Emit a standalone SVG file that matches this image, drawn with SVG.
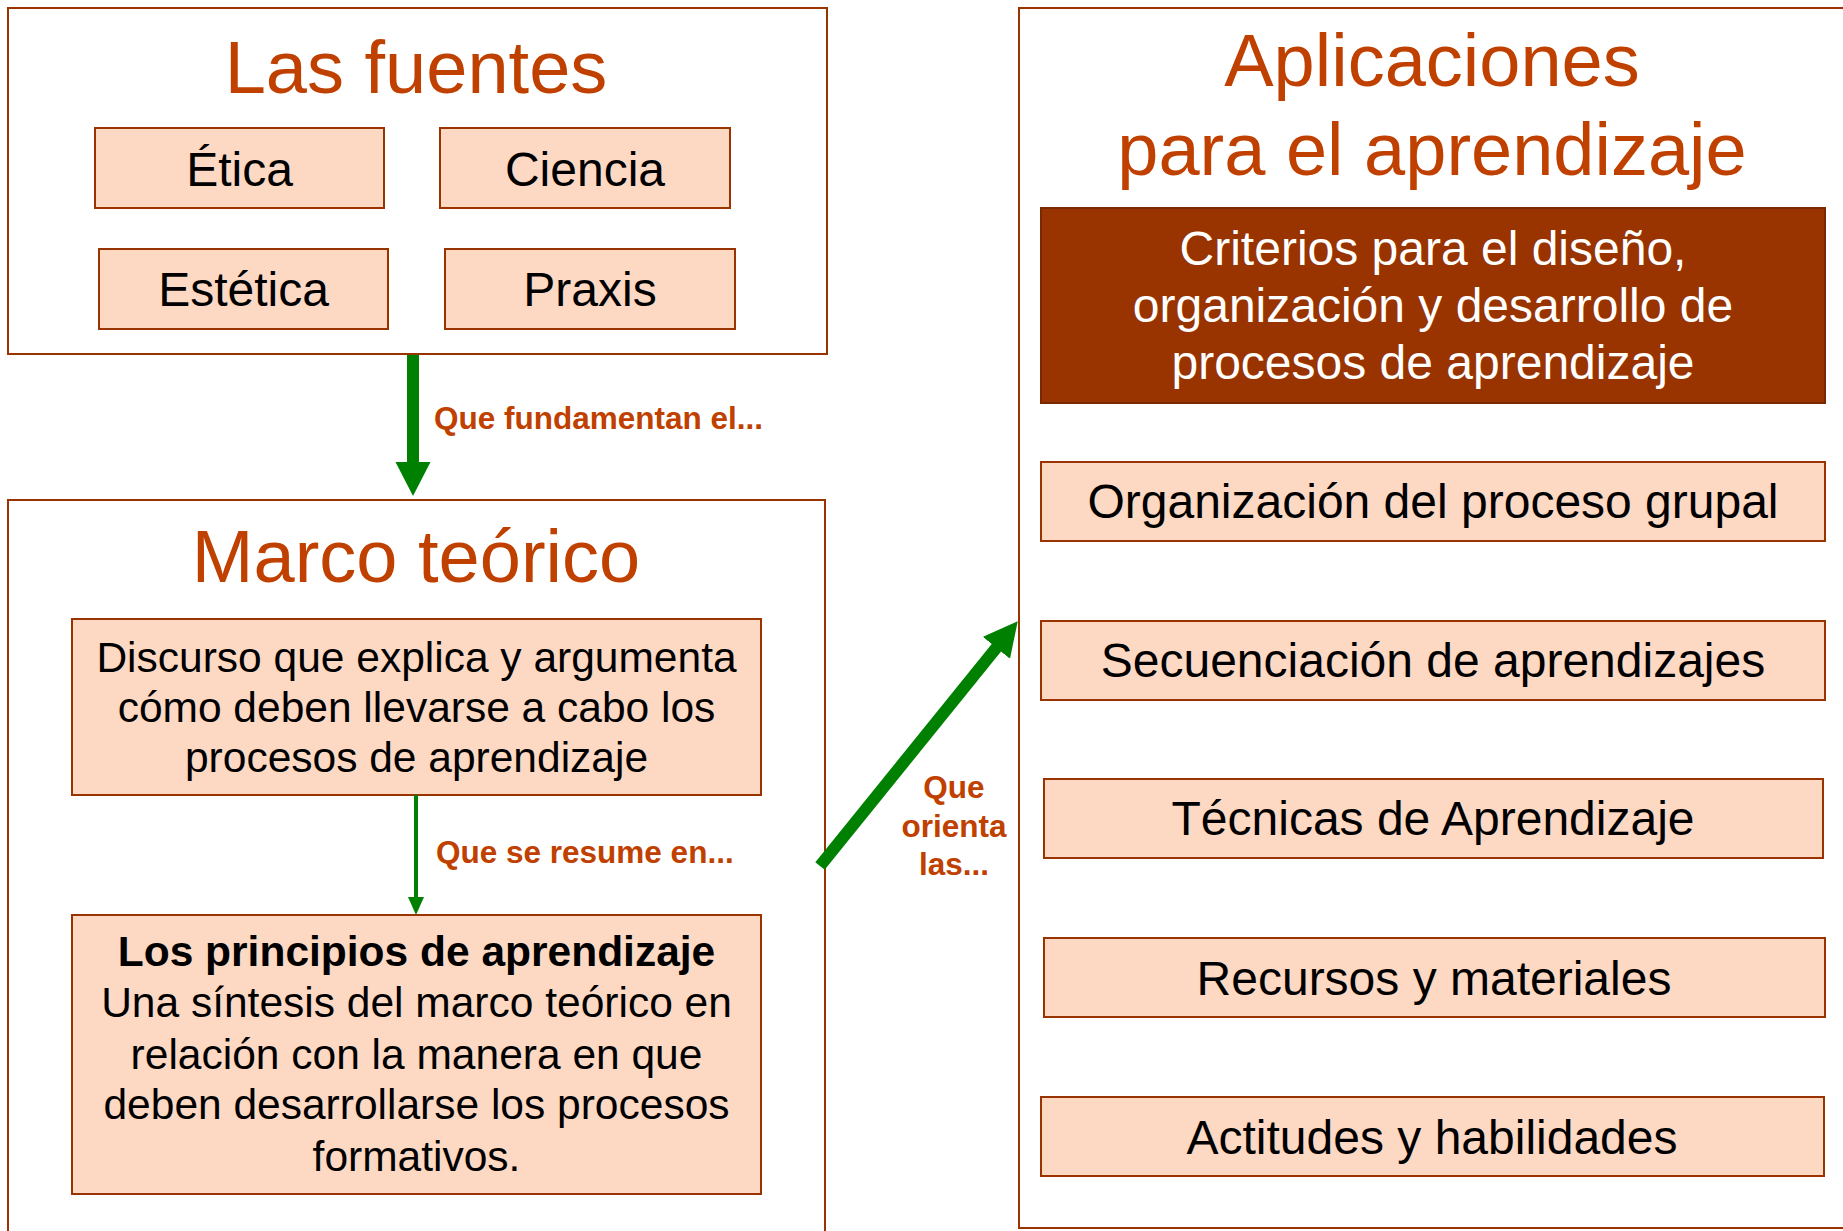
<svg xmlns="http://www.w3.org/2000/svg" width="1843" height="1231" viewBox="0 0 1843 1231">
<style>
.frame{fill:#ffffff;stroke:#993300;stroke-width:2}
.box{fill:#FDD8C3;stroke:#993300;stroke-width:2}
.dark{fill:#993300;stroke:#7a2800;stroke-width:2}
.title{font-family:"Liberation Sans",Arial,sans-serif;font-size:74px;fill:#C04000;text-anchor:middle}
.t48{font-family:"Liberation Sans",Arial,sans-serif;font-size:48px;fill:#000;text-anchor:middle}
.t42{font-family:"Liberation Sans",Arial,sans-serif;font-size:42.5px;fill:#000;text-anchor:middle}
.w48{font-family:"Liberation Sans",Arial,sans-serif;font-size:48px;fill:#fff;text-anchor:middle}
.lbl{font-family:"Liberation Sans",Arial,sans-serif;font-size:31.5px;font-weight:bold;fill:#C04000}
.conn{stroke:#008000;fill:none}
</style>
<defs>
<marker id="bigHead" markerUnits="userSpaceOnUse" markerWidth="36" markerHeight="36" refX="1" refY="17.5" orient="auto" viewBox="0 0 36 36">
<path d="M0,0 L34,17.5 L0,35 z" fill="#008000"/>
</marker>
<marker id="smallHead" markerUnits="userSpaceOnUse" markerWidth="20" markerHeight="18" refX="1" refY="8" orient="auto" viewBox="0 0 20 18">
<path d="M0,0 L18,8 L0,16 z" fill="#008000"/>
</marker>
</defs>

<g id="fuentes">
<rect class="frame" x="8" y="8" width="819" height="346"/>
<text class="title" x="416" y="93">Las fuentes</text>
</g>
<g id="etica"><rect class="box" x="95" y="128" width="289" height="80"/><text class="t48" x="239.5" y="186">Ética</text></g>
<g id="ciencia"><rect class="box" x="440" y="128" width="290" height="80"/><text class="t48" x="585" y="186">Ciencia</text></g>
<g id="estetica"><rect class="box" x="99" y="249" width="289" height="80"/><text class="t48" x="243.5" y="306">Estética</text></g>
<g id="praxis"><rect class="box" x="445" y="249" width="290" height="80"/><text class="t48" x="590" y="306">Praxis</text></g>

<g id="marco">
<rect class="frame" x="8" y="500" width="817" height="740"/>
<text class="title" x="416" y="582">Marco teórico</text>
</g>
<g id="discurso">
<rect class="box" x="72" y="619" width="689" height="176"/>
<text class="t42" x="416.5" y="672">Discurso que explica y argumenta</text>
<text class="t42" x="416.5" y="722">cómo deben llevarse a cabo los</text>
<text class="t42" x="416.5" y="772">procesos de aprendizaje</text>
</g>
<g id="principios">
<rect class="box" x="72" y="915" width="689" height="279"/>
<text class="t42" x="416.5" y="966" font-weight="bold">Los principios de aprendizaje</text>
<text class="t42" x="416.5" y="1017">Una síntesis del marco teórico en</text>
<text class="t42" x="416.5" y="1069">relación con la manera en que</text>
<text class="t42" x="416.5" y="1119">deben desarrollarse los procesos</text>
<text class="t42" x="416.5" y="1171">formativos.</text>
</g>

<g id="aplicaciones">
<rect class="frame" x="1019" y="8" width="840" height="1220"/>
<text class="title" x="1432" y="86">Aplicaciones</text>
<text class="title" x="1432" y="175">para el aprendizaje</text>
</g>
<g id="criterios">
<rect class="dark" x="1041" y="208" width="784" height="195"/>
<text class="w48" x="1433" y="265">Criterios para el diseño,</text>
<text class="w48" x="1433" y="322">organización y desarrollo de</text>
<text class="w48" x="1433" y="379">procesos de aprendizaje</text>
</g>
<g id="organizacion"><rect class="box" x="1041" y="462" width="784" height="79"/><text class="t48" x="1433" y="518">Organización del proceso grupal</text></g>
<g id="secuenciacion"><rect class="box" x="1041" y="621" width="784" height="79"/><text class="t48" x="1433" y="677">Secuenciación de aprendizajes</text></g>
<g id="tecnicas"><rect class="box" x="1044" y="779" width="779" height="79"/><text class="t48" x="1433" y="835">Técnicas de Aprendizaje</text></g>
<g id="recursos"><rect class="box" x="1044" y="938" width="781" height="79"/><text class="t48" x="1434" y="995">Recursos y materiales</text></g>
<g id="actitudes"><rect class="box" x="1041" y="1097" width="783" height="79"/><text class="t48" x="1432" y="1154">Actitudes y habilidades</text></g>

<g id="connectors">
<path class="conn" d="M413,355 L413,463" stroke-width="12" marker-end="url(#bigHead)"/>
<text class="lbl" x="434" y="429">Que fundamentan el...</text>
<path class="conn" d="M416,795 L416,898" stroke-width="4" marker-end="url(#smallHead)"/>
<text class="lbl" x="436" y="863">Que se resume en...</text>
<path class="conn" d="M820,866 L997,647" stroke-width="12" marker-end="url(#bigHead)"/>
<text class="lbl" x="954" y="798" text-anchor="middle">Que</text>
<text class="lbl" x="954" y="837" text-anchor="middle">orienta</text>
<text class="lbl" x="954" y="875" text-anchor="middle">las...</text>
</g>
</svg>
